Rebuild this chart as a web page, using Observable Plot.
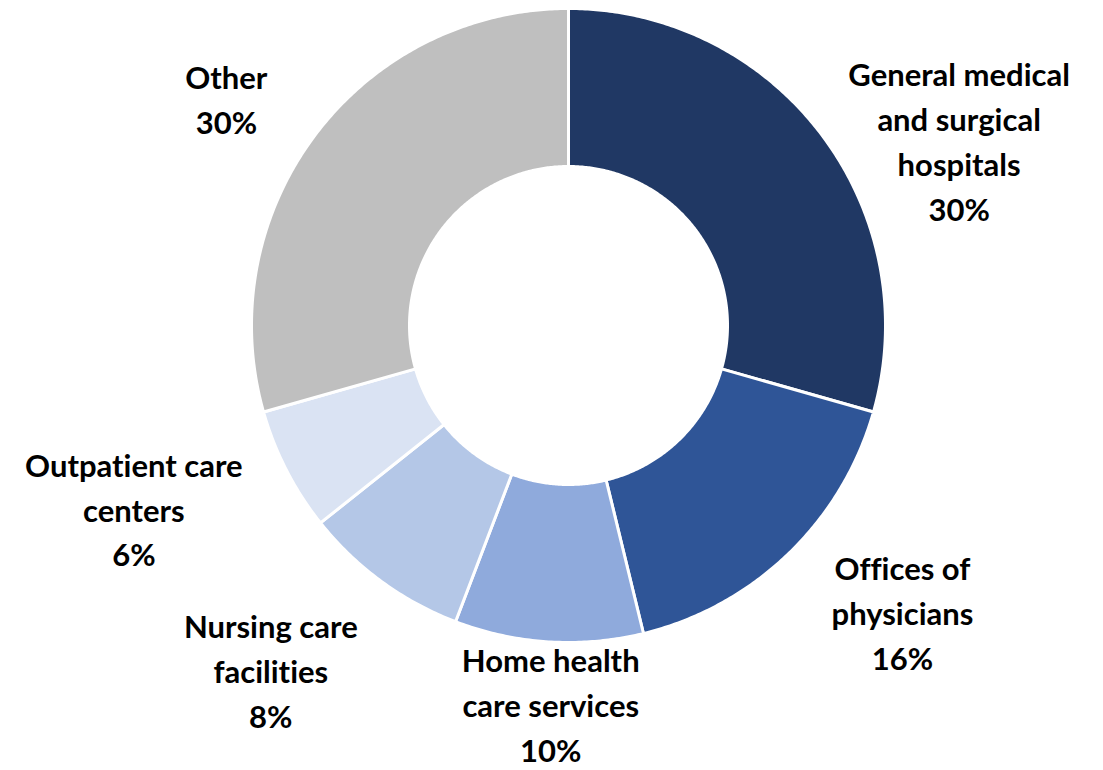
<!DOCTYPE html>
<html><head><meta charset="utf-8">
<script src="https://cdn.jsdelivr.net/npm/d3@7"></script>
<script src="https://cdn.jsdelivr.net/npm/@observablehq/plot@0.6"></script>
<style>body{margin:0;background:#fff} svg{overflow:visible} svg text{font-variant-ligatures:none;font-feature-settings:"liga" 0}</style>
</head><body><div id="chart"></div>
<script>
const categories = ["General medical\nand surgical\nhospitals", "Offices of\nphysicians", "Home health\ncare services", "Nursing care\nfacilities", "Outpatient care\ncenters", "Other"];
const shares = [29.4, 16.8, 9.6, 8.5, 6.3, 29.4];
const shareLabels = ["30%", "16%", "10%", "8%", "6%", "30%"];
const colors = ["#203864", "#2F5597", "#8FAADC", "#B4C7E7", "#DAE3F3", "#BFBFBF"];

// layout (not data)
const W = 1103, H = 770, cx = 568, cy = 325, R = 317, inner = 159 / 317;
const labelAngleShift = [11.6, -5.6, -0.9, 4.8, 4.5, -3.4];
const labelRadius = [1.365, 1.385, 1.19, 1.432, 1.486, 1.297];

const total = d3.sum(shares);
const deg = Math.PI / 180;
let acc = 0;
const polys = [];
const labels = [];
categories.forEach((c, i) => {
  const a0 = acc / total * 360, a1 = (acc + shares[i]) / total * 360;
  acc += shares[i];
  const n = Math.max(4, Math.ceil((a1 - a0) / 0.5));
  const pts = [];
  for (let k = 0; k <= n; k++) { const a = (a0 + (a1 - a0) * k / n) * deg; pts.push({key: c, x: Math.sin(a), y: Math.cos(a)}); }
  for (let k = n; k >= 0; k--) { const a = (a0 + (a1 - a0) * k / n) * deg; pts.push({key: c, x: Math.sin(a) * inner, y: Math.cos(a) * inner}); }
  polys.push(...pts);
  const m = ((a0 + a1) / 2 + labelAngleShift[i]) * deg;
  labels.push({x: Math.sin(m) * labelRadius[i], y: Math.cos(m) * labelRadius[i], text: c + "\n" + shareLabels[i]});
});

const chart = Plot.plot({
  width: W, height: H, margin: 0,
  x: {domain: [-cx / R, (W - cx) / R], axis: null},
  y: {domain: [-(H - cy) / R, cy / R], axis: null},
  color: {domain: categories, range: colors},
  marks: [
    Plot.line(polys, {x: "x", y: "y", z: "key", fill: "key", stroke: "white", strokeWidth: 3, curve: "linear-closed"}),
    Plot.text(labels, {x: "x", y: "y", text: "text", fill: "black", fontWeight: "bold", fontSize: 31, fontFamily: "Lato", lineHeight: 1.45, textAnchor: "middle", lineAnchor: "middle"})
  ]
});
document.getElementById("chart").appendChild(chart);
</script>
</body></html>
